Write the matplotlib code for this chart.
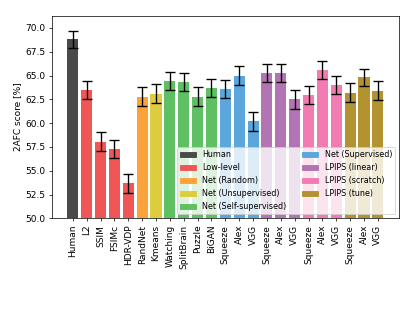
import numpy as np
import matplotlib
matplotlib.use('Agg')
import matplotlib.pyplot as plt
from matplotlib.patches import Patch

labels = ['Human', 'L2', 'SSIM', 'FSIMc', 'HDR-VDP', 'RandNet', 'Kmeans',
          'Watching', 'SplitBrain', 'Puzzle', 'BiGAN',
          'Squeeze', 'Alex', 'VGG', 'Squeeze', 'Alex', 'VGG',
          'Squeeze', 'Alex', 'VGG', 'Squeeze', 'Alex', 'VGG']
scores = [68.8, 63.5, 58.05, 57.3, 53.7, 62.8, 63.1,
          64.45, 64.35, 62.8, 63.7,
          63.6, 65.0, 60.2, 65.3, 65.3, 62.5,
          63.0, 65.6, 64.0, 63.2, 64.8, 63.4]
errors = [0.92, 0.98, 0.98, 0.98, 0.98, 0.95, 0.97,
          0.95, 0.95, 0.95, 0.96,
          0.95, 0.96, 0.97, 0.95, 0.95, 0.97,
          0.95, 0.95, 0.95, 0.97, 0.92, 0.98]
groups = [0, 1, 1, 1, 1, 2, 3, 4, 4, 4, 4, 5, 5, 5, 6, 6, 6, 7, 7, 7, 8, 8, 8]
group_names = ['Human', 'Low-level', 'Net (Random)', 'Net (Unsupervised)',
               'Net (Self-supervised)', 'Net (Supervised)', 'LPIPS (linear)',
               'LPIPS (scratch)', 'LPIPS (tune)']
group_colors = ['#4a4a4a', '#f05656', '#fba23a', '#ddcc3e', '#5ebf63',
                '#5ba6dc', '#b274b2', '#f27cb2', '#b39330']

fig, ax = plt.subplots(figsize=(6.4, 4.8), dpi=65)
fig.subplots_adjust(left=0.125, right=0.96, top=0.95, bottom=0.3)

x = np.arange(len(labels))
cols = [group_colors[g] for g in groups]
ax.bar(x, scores, width=0.8, color=cols, yerr=errors, capsize=5,
       error_kw=dict(ecolor='black', elinewidth=1.5, capthick=1.5))
ax.set_xticks(x)
ax.set_xticklabels(labels, rotation=90)
ax.set_xlim(-1.5, len(labels) + 0.55)
ax.set_ylim(50, 71.3)
ax.set_ylabel('2AFC score [%]')

handles = [Patch(color=c, label=n) for c, n in zip(group_colors, group_names)]
ax.legend(handles=handles, ncol=2, loc='lower right', framealpha=0.8,
          fontsize=8.8)

fig.savefig('out.png', dpi=65)
